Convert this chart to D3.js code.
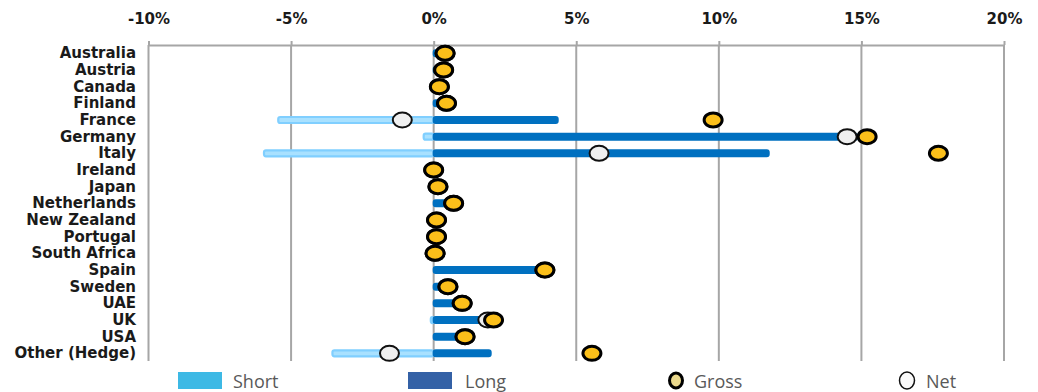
<!DOCTYPE html>
<html>
<head>
<meta charset="utf-8">
<script src="https://cdn.jsdelivr.net/npm/d3@7/dist/d3.min.js"></script>
<style>
  html, body { margin: 0; padding: 0; background: #fff; }
  svg { display: block; }
</style>
</head>
<body>
<svg id="chart" width="1038" height="392"></svg>
<script>
// Positions by country, % of total
const countries = ["Australia", "Austria", "Canada", "Finland", "France", "Germany", "Italy",
  "Ireland", "Japan", "Netherlands", "New Zealand", "Portugal", "South Africa", "Spain",
  "Sweden", "UAE", "UK", "USA", "Other (Hedge)"];
const shortPos = [0, 0, 0, 0, -5.45, -0.35, -5.95, 0, 0, 0, 0, 0, 0, 0, 0, 0, -0.1, 0, -3.55];
const longPos  = [0.4, 0.35, 0.2, 0.45, 4.35, 14.85, 11.75, 0.0, 0.15, 0.7, 0.1, 0.1, 0.05, 3.9, 0.5, 1.0, 2.0, 1.1, 2.0];
const grossPos = [0.4, 0.35, 0.2, 0.45, 9.8, 15.2, 17.7, 0.0, 0.15, 0.7, 0.1, 0.1, 0.05, 3.9, 0.5, 1.0, 2.1, 1.1, 5.55];
const netPos   = [0.4, 0.35, 0.2, 0.45, -1.1, 14.5, 5.8, 0.0, 0.15, 0.7, 0.1, 0.1, 0.05, 3.9, 0.5, 1.0, 1.9, 1.1, -1.55];
const tickValues = [-10, -5, 0, 5, 10, 15, 20];
const legendItems = ["Short", "Long", "Gross", "Net"];

const rows = countries.map((c, i) => ({
  name: c, short: shortPos[i], long: longPos[i], gross: grossPos[i], net: netPos[i]
}));

const svg = d3.select("#chart");
const x = d3.scaleLinear().domain([-10, 20]).range([148.5, 1004]);
const y = d3.scaleBand().domain(countries).range([45, 361.7]).padding(0);
const yc = d => y(d) + y.bandwidth() / 2;

const gridColor = "#a6a6a6";
const labelFont = "'DejaVu Sans', sans-serif";

// Vertical gridlines
svg.append("g").selectAll("line").data(tickValues).join("line")
  .attr("x1", d => x(d)).attr("x2", d => x(d))
  .attr("y1", 45).attr("y2", 361)
  .attr("stroke", gridColor).attr("stroke-width", 2);

// Top axis
const axis = svg.append("g").attr("transform", "translate(0,45)")
  .call(d3.axisTop(x).tickValues(tickValues).tickSize(4).tickSizeOuter(0).tickPadding(17)
    .tickFormat(d => d + "%"));
axis.select(".domain").attr("stroke", gridColor).attr("stroke-width", 2);
axis.selectAll(".tick line").attr("stroke", gridColor).attr("stroke-width", 2);
axis.selectAll(".tick text")
  .attr("font-family", labelFont).attr("font-weight", "bold")
  .attr("font-size", 15).attr("fill", "#1a1a1a");

// Category labels
svg.append("g").selectAll("text").data(countries).join("text")
  .attr("x", 136).attr("y", d => yc(d))
  .attr("text-anchor", "end").attr("dominant-baseline", "central")
  .attr("font-family", labelFont).attr("font-weight", "bold")
  .attr("font-size", 15).attr("fill", "#1a1a1a")
  .text(d => d);

const barH = 6;

// Short bars
svg.append("g").selectAll("rect").data(rows.filter(d => d.short < 0)).join("rect")
  .attr("x", d => x(d.short)).attr("width", d => x(0) - x(d.short))
  .attr("y", d => yc(d.name) - barH / 2).attr("height", barH)
  .attr("rx", 2)
  .attr("fill", "#a9e1ff").attr("stroke", "#80cfff").attr("stroke-width", 2.2);

// Long bars
svg.append("g").selectAll("rect").data(rows.filter(d => d.long > 0)).join("rect")
  .attr("x", x(0)).attr("width", d => x(d.long) - x(0))
  .attr("y", d => yc(d.name) - barH / 2).attr("height", barH)
  .attr("rx", 2)
  .attr("fill", "#0070c0").attr("stroke", "#0070c0").attr("stroke-width", 2)
  .attr("stroke-linejoin", "round");

// Net markers
svg.append("g").selectAll("ellipse").data(rows).join("ellipse")
  .attr("cx", d => x(d.net)).attr("cy", d => yc(d.name))
  .attr("rx", 9.5).attr("ry", 7.5)
  .attr("fill", "#efefef").attr("stroke", "#111").attr("stroke-width", 2);

// Gross markers
svg.append("g").selectAll("ellipse").data(rows).join("ellipse")
  .attr("cx", d => x(d.gross)).attr("cy", d => yc(d.name))
  .attr("rx", 9).attr("ry", 7)
  .attr("fill", "#fbbf1a").attr("stroke", "#000").attr("stroke-width", 3);

// Legend
const legend = svg.append("g");
const legendFont = "'Open Sans', sans-serif";
const lg = [
  { label: legendItems[0], sx: 178, tx: 233, kind: "rect", color: "#3db9e5" },
  { label: legendItems[1], sx: 408, tx: 465, kind: "rect", color: "#3461a6" },
  { label: legendItems[2], sx: 676, tx: 694, kind: "gross" },
  { label: legendItems[3], sx: 907, tx: 926, kind: "net" }
];
lg.forEach(item => {
  if (item.kind === "rect") {
    legend.append("rect").attr("x", item.sx).attr("y", 372)
      .attr("width", 44).attr("height", 17).attr("fill", item.color);
  } else if (item.kind === "gross") {
    legend.append("ellipse").attr("cx", item.sx).attr("cy", 380.5)
      .attr("rx", 6.5).attr("ry", 7.5)
      .attr("fill", "#ead88c").attr("stroke", "#000").attr("stroke-width", 3);
  } else {
    legend.append("ellipse").attr("cx", item.sx).attr("cy", 380.5)
      .attr("rx", 7.5).attr("ry", 8.5)
      .attr("fill", "#fafafa").attr("stroke", "#111").attr("stroke-width", 1.5);
  }
  legend.append("text").attr("x", item.tx).attr("y", 388)
    .attr("font-family", legendFont).attr("font-size", 18).attr("fill", "#595959")
    .text(item.label);
});
</script>
</body>
</html>
